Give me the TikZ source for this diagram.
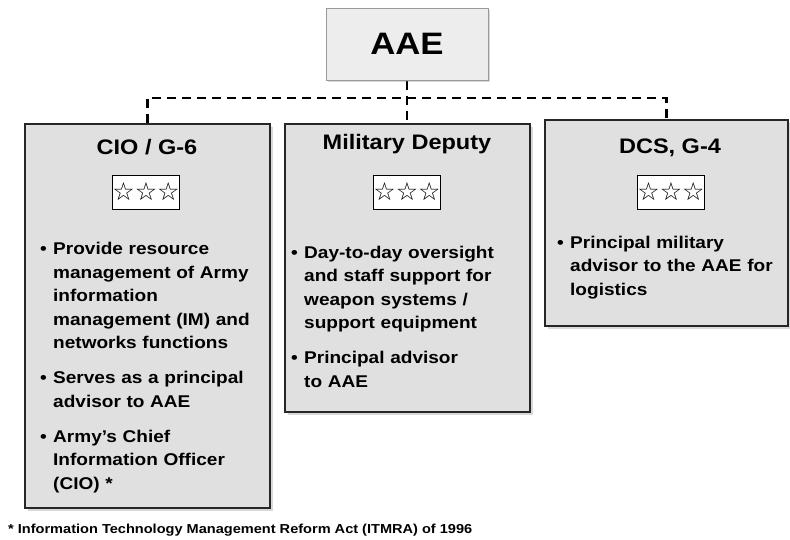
\documentclass[tikz,border=0pt]{standalone}
\usepackage{fontspec}
\setmainfont{Liberation Sans}[FakeStretch=1.12]
\newfontfamily\starfont{DejaVu Sans}
\usetikzlibrary{shadows}
\pgfdeclarelayer{edgelayer}
\pgfdeclarelayer{nodelayer}
\pgfsetlayers{edgelayer,nodelayer,main}
\newlength{\dutyind}
\setlength{\dutyind}{13pt}
\newcommand{\duty}[1]{\par\noindent\hangindent=\dutyind\hangafter=1\makebox[\dutyind][l]{\textbullet}#1\par}
\newcommand{\dutygap}{\vskip 11.5pt}
\tikzstyle{office}=[rectangle, draw=black!85, line width=1.3pt, fill=black!12, drop shadow={shadow xshift=2.5pt, shadow yshift=-2.5pt, opacity=0.3}]
\tikzstyle{head}=[rectangle, draw=black!40, line width=1pt, fill=black!7, minimum width=162pt, minimum height=72pt, font=\fontsize{31}{36}\selectfont\bfseries, drop shadow={shadow xshift=2pt, shadow yshift=-2pt, opacity=0.3}]
\tikzstyle{title}=[inner sep=0pt, font=\fontsize{21}{25}\selectfont\bfseries]
\tikzstyle{rank}=[rectangle, draw=black, line width=0.6pt, fill=white, minimum width=66pt, minimum height=34pt, inner sep=0pt, font=\starfont\fontsize{25}{25}\selectfont]
\tikzstyle{duties}=[anchor=north west, inner sep=0pt, text width=225pt, align=left, font=\fontsize{17}{23.5}\selectfont\bfseries]
\tikzstyle{link}=[draw=black, line width=2.2pt, dash pattern=on 9pt off 6pt]
\tikzstyle{note}=[anchor=west, inner sep=0pt, font=\fontsize{13}{15}\selectfont\bfseries]

\begin{document}
\begin{tikzpicture}[x=1pt, y=-1pt]
	\useasboundingbox (0, 0) rectangle (790, 539);
	\begin{pgfonlayer}{nodelayer}
		\node [style=head] (aae) at (407, 44) {AAE};
		\node [style=office, minimum width=245pt, minimum height=384pt] (cio) at (147.5, 316) {};
		\node [style=office, minimum width=245pt, minimum height=288pt] (md) at (407.5, 268) {};
		\node [style=office, minimum width=243pt, minimum height=206pt] (dcs) at (666.5, 223) {};
		\node [style=title] (cio title) at (147, 147) {CIO / G-6};
		\node [style=title] (md title) at (407, 144) {Military Deputy};
		\node [style=title] (dcs title) at (670, 148) {DCS, G-4};
		\node [style=rank] (cio rank) at (146, 192) {☆☆☆};
		\node [style=rank] (md rank) at (407, 192) {☆☆☆};
		\node [style=rank] (dcs rank) at (671, 192) {☆☆☆};
		\node [style=duties] (cio duties) at (40, 231) {%
			\duty{Provide resource\newline management of Army\newline information\newline management (IM) and\newline networks functions}\dutygap
			\duty{Serves as a principal\newline advisor to AAE}\dutygap
			\duty{Army’s Chief\newline Information Officer\newline (CIO) *}};
		\node [style=duties] (md duties) at (291, 234.5) {%
			\duty{Day-to-day oversight\newline and staff support for\newline weapon systems /\newline support equipment}\dutygap
			\duty{Principal advisor\newline to AAE}};
		\node [style=duties] (dcs duties) at (557, 224.5) {%
			\duty{Principal military\newline advisor to the AAE for\newline logistics}};
		\node [style=note] (itmra) at (8, 530) {* Information Technology Management Reform Act (ITMRA) of 1996};
	\end{pgfonlayer}
	\begin{pgfonlayer}{edgelayer}
		\coordinate (bus) at (407, 98);
		\draw [style=link] (cio.north) |- (bus) -| (dcs.north);
		\draw [style=link] (aae.south) -- (aae.south |- md.north);
	\end{pgfonlayer}
\end{tikzpicture}
\end{document}
